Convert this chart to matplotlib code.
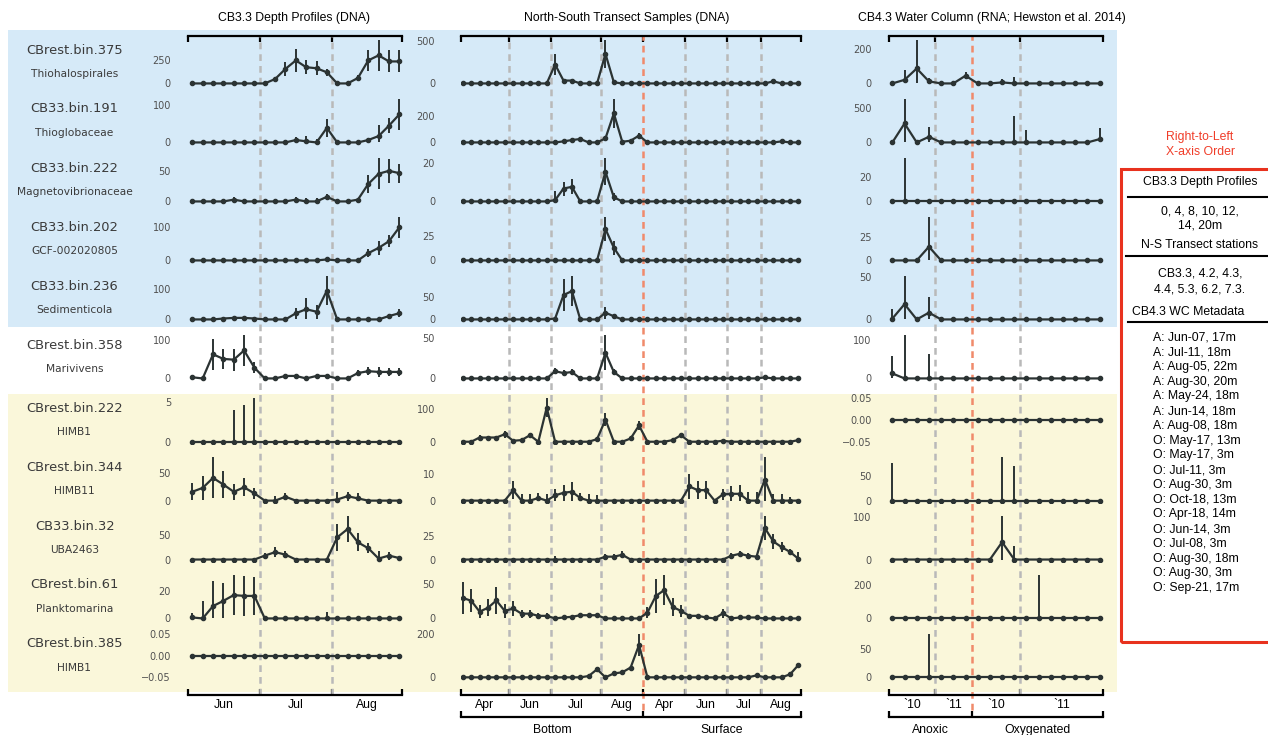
import numpy as np
import matplotlib
matplotlib.use('Agg')
import matplotlib.pyplot as plt
from matplotlib.patches import Rectangle
from matplotlib.lines import Line2D

# ---------------- data ----------------
bin_names = ["CBrest.bin.375", "CB33.bin.191", "CB33.bin.222", "CB33.bin.202", "CB33.bin.236",
             "CBrest.bin.358", "CBrest.bin.222", "CBrest.bin.344", "CB33.bin.32", "CBrest.bin.61",
             "CBrest.bin.385"]
bin_taxa = ["Thiohalospirales", "Thioglobaceae", "Magnetovibrionaceae", "GCF-002020805",
            "Sedimenticola", "Marivivens", "HIMB1", "HIMB11", "UBA2463", "Planktomarina", "HIMB1"]

col_titles = ["CB3.3 Depth Profiles (DNA)", "North-South Transect Samples (DNA)",
              "CB4.3 Water Column (RNA; Hewston et al. 2014)"]

# CB3.3 depth profiles (21 samples)
depth_mean = [
    [0,0,0,0,0,0,0,0,48,158,250,176,165,121,0,0,59,250,305,239,239],
    [0,0,0,0,0,0,0,0,0,0,6.5,3,0,39,0,0,0,6.5,17,45,75],
    [0,0,0,0,3,0,0,0,0,0,3,0,0,7.6,0,0,3,29,46,51,47],
    [0,0,0,0,0,0,0,0,0,0,0,0,0,3,0,0,0,22,38,58,100],
    [0,0,0,3,5,5,3,0,0,0,20,33,25,93,0,0,0,0,0,11,20],
    [3,0,63,51,49,73,28,0,0,6.5,6.5,0,6.5,6.5,0,0,14,19,17,17,17],
    [0,0,0,0,0,0,0,0,0,0,0,0,0,0,0,0,0,0,0,0,0],
    [16,23,41,29,16,24,13,0,0,7,0,0,0,0,2,8,4,0,0,0,0],
    [0,0,0,0,0,0,0,8,15,10,0,0,0,0,45,62,35,23,2,8,3],
    [0.7,0,9,12.8,17,16.4,16.4,0,0,0,0,0,0,0,0,0,0,0,0,0,0],
    [0,0,0,0,0,0,0,0,0,0,0,0,0,0,0,0,0,0,0,0,0],
]
depth_sd = [
    [0,0,0,0,0,0,0,0,20,73,128,74,74,37,0,0,30,118,165,120,120],
    [0,0,0,0,0,0,0,0,0,0,7,14,8,25,0,0,0,5,30,21,41],
    [0,0,0,0,4,4,0,0,0,0,4,5,5,5,0,0,3,15,26,20,16],
    [0,0,0,0,0,0,0,0,0,0,0,0,0,0,0,0,0,12,22,18,31],
    [0,0,0,2,3,3,2,0,0,0,17,36,22,47,0,0,0,0,0,6,13],
    [5,0,40,26,29,40,14,0,0,6,6,0,5,5,0,0,8,10,12,10,10],
    [0,0,0,0,4.0,4.6,5.4,0,0,0,0,0,0,0,0,0,0,0,0,0,0],
    [15,21,37,24,14,16,10,0,8,6,0,0,0,0,14,8,10,0,0,0,0],
    [0,0,0,0,0,0,0,6,10,7,0,0,0,0,28,26,18,10,16,8,5],
    [3,12.8,18,13,14.5,14.5,14,0,0,0,0,0,0,5,0,0,0,0,0,0,0],
    [0,0,0,0,0,0,0,0,0,0,0,0,0,0,0,0,0,0,0,0,0],
]

# North-South transect (41 samples)
transect_mean = [
    [0,0,0,0,0,0,0,0,0,0, 0,225,34,34,0,0,0,352,13,0, 0,0,0,0,0,0,0,0,0,0, 0,0,0,0,0,0,0,25,0,0, 0],
    [0,0,0,0,0,0,0,0,0,0, 0,0,8,18,26,0,0,31,220,5, 13,52,0,0,0,0,0,0,0,0, 0,0,0,0,0,0,0,0,8,0, 0],
    [0,0,0,0,0,0,0,0,0,0, 0,0.7,6.8,7.7,0,0,0,15.6,2.2,0, 0,0,0,0,0,0,0,0,0,0, 0,0,0,0,0,0,0,0,0,0, 0],
    [0,0,0,0,0,0,0,0,0,0, 0,0,0,0,0,0,0,31.6,12.8,0, 0,0,0,0,0,0,0,0,0,0, 0,0,0,0,0,0,0,0,0,0, 0],
    [0,0,0,0,0,0,0,0,0,0, 0,2,54,63,0,0,0,15,7,0, 0,0,0,0,0,0,0,0,0,0, 0,0,0,0,0,0,0,0,0,0, 0],
    [0,0,0,0,0,0,0,0,0,0, 0,9,6.7,8,0,0,0,32,8,0, 0,0,0,0,0,0,0,0,0,0, 0,0,0,0,0,0,1.3,0,0,0, 0],
    [0,0,13,13,13,23,3,5,20,0, 105,0,0,0,0,0,8,68,0,0, 10,50,0,0,0,5,20,0,0,0, 0,3,0,0,0,0,0,0,0,0, 5],
    [0,0,0,0,0,0,4,0,0,1, 0,2,3,3.4,1,0,0,0,0,0, 0,0,0,0,0,0,0,5.4,4,4, 0,2.4,2.6,2.6,0,0,8,0,0,0, 0],
    [0,0,0,0,0,0,0,0,0,0, 0,0,0,0,0,0,0,3,3,5, 0,0,0,0,0,0,0,0,0,0, 0,0,4,6,4,3,33,19,13,8, 0.7],
    [30,26,10,15.6,26.4,11,14.6,7,7,3.8, 3.8,0,1.4,2.4,4.7,4.7,4.7,0,0,0, 0,0,8.5,33,41.5,17,11,3.8,3.8,1.4, 0,7.5,0,1.4,1.4,1.4,0,0,0,0, 0],
    [0,0,0,0,0,0,0,0,0,0, 0,0,0,0,0,6,37,0,18,23, 45,149,0,0,0,0,0,0,0,0, 0,0,0,0,0,9,0,0,0,14, 57],
]
transect_sd = [
    [0,0,0,0,0,0,0,0,0,0, 0,120,0,0,0,0,0,163,0,0, 0,0,0,0,0,0,0,0,0,0, 0,0,0,0,0,0,0,0,0,0, 0],
    [0,0,0,0,0,0,0,0,0,0, 0,0,0,0,0,0,0,0,108,0, 0,21,0,0,0,0,0,0,0,0, 0,0,0,0,0,0,0,0,0,0, 0],
    [0,0,0,0,0,0,0,0,0,0, 0,5,3.7,4,0,0,0,7.2,2,0, 0,0,0,0,0,0,0,0,0,0, 0,0,0,0,0,0,0,0,0,0, 0],
    [0,0,0,0,0,0,0,0,0,0, 0,0,0,0,0,0,0,12,7,0, 0,0,0,0,0,0,0,0,0,0, 0,0,0,0,0,0,0,0,0,0, 0],
    [0,0,0,0,0,0,0,0,0,0, 0,0,35,33,0,0,0,13,5,0, 0,0,0,0,0,0,0,0,0,0, 0,0,0,0,0,0,0,0,0,0, 0],
    [0,0,0,0,0,0,0,0,0,0, 0,4,4,4,0,0,0,22,4,0, 0,0,0,0,0,0,0,0,0,0, 0,0,0,0,0,0,0,0,0,0, 0],
    [0,0,8,6,6,10,0,0,4,0, 28,0,0,0,0,0,0,20,0,0, 0,15,0,0,0,0,3,0,0,0, 0,0,0,0,0,0,0,0,0,0, 4],
    [0,0,0,0,0,0,3.3,2.4,2.4,2, 2.4,2.3,3,3.8,2,2.4,2,0,0,0, 0,0,0,0,0,0,0,4.6,3.3,3.3, 0,2,3,3.5,3.3,3.3,8.5,2.4,2.4,1.4, 0],
    [0,0,0,0,0,0,0,0,0,0, 0,4,0,0,0,0,0,3,3,3.5, 0,0,0,0,0,0,0,0,0,0, 0,0,3,3,3,0,12.5,8,5,3, 7.6],
    [23.6,17,10,12.7,20,10,10.6,6,6,4, 4,0,0,0,4,4,4,0,0,0, 0,0,8,25,22,13,9,0,0,0, 0,7,0,0,0,0,0,0,0,0, 0],
    [0,0,0,0,0,0,0,0,0,0, 0,0,0,0,0,0,7,0,0,0, 5,50,0,0,0,0,0,0,0,0, 0,0,0,0,0,0,0,0,0,0, 10],
]

# CB4.3 water column (18 samples)
wc_mean = [
    [0,21,87,12,0,0,45,0,0,6,0,0,0,0,0,0,0,0],
    [0,279,0,83,0,0,0,0,0,0,0,0,0,0,0,0,0,49],
    [0,0,0,0,0,0,0,0,0,0,0,0,0,0,0,0,0,0],
    [0,0,0,14.4,0,0,0,0,0,0,0,0,0,0,0,0,0,0],
    [1,18,0,8,0,0,0,0,0,0,0,0,0,0,0,0,0,0],
    [13,0,0,0,0,0,0,0,0,0,0,0,0,0,0,0,0,0],
    [0,0,0,0,0,0,0,0,0,0,0,0,0,0,0,0,0,0],
    [0,0,0,0,0,0,0,0,0,0,0,0,0,0,0,0,0,0],
    [0,0,0,0,0,0,0,0,0,41,0,0,0,0,0,0,0,0],
    [0,0,0,0,0,0,0,0,0,0,0,0,0,0,0,0,0,0],
    [0,0,0,0,0,0,0,0,0,0,0,0,0,0,0,0,0,0],
]
wc_sd = [
    [0,57,165,19,0,0,21,0,0,19,39,0,0,0,0,0,0,0],
    [0,358,0,147,0,0,0,0,0,0,392,181,0,0,0,0,0,162],
    [0,35.7,0,0,0,0,0,0,0,0,0,0,0,0,0,0,0,0],
    [0,0,0,31,0,0,0,0,0,0,0,0,0,0,0,0,0,0],
    [11,33,0,18,0,0,0,0,0,0,0,0,0,0,0,0,0,0],
    [45,113,0,65,0,0,0,0,0,0,0,0,0,0,0,0,0,0],
    [0,0,0,0,0,0,0,0,0,0,0,0,0,0,0,0,0,0],
    [75,0,0,0,0,0,0,0,0,87,70,0,0,0,0,0,0,0],
    [0,0,0,0,0,0,0,0,0,61,31.5,0,0,0,0,0,0,0],
    [0,0,0,0,0,0,0,0,0,0,0,0,259,0,0,0,0,0],
    [0,0,0,77,0,0,0,0,0,0,0,0,0,0,0,0,0,0],
]

depth_ticks = [[0,250],[0,100],[0,50],[0,100],[0,100],[0,100],[0,5],[0,50],[0,50],[0,20],[-0.05,0,0.05]]
transect_ticks = [[0,500],[0,200],[0,20],[0,25],[0,50],[0,50],[0,100],[0,10],[0,25],[0,50],[0,200]]
wc_ticks = [[0,200],[0,500],[0,20],[0,25],[0,50],[0,100],[-0.05,0,0.05],[0,50],[0,100],[0,200],[0,50]]

depth_months = ["Jun", "Jul", "Aug"]
transect_months = ["Apr", "Jun", "Jul", "Aug", "Apr", "Jun", "Jul", "Aug"]
wc_years = ["`10", "`11", "`10", "`11"]
transect_groups = ["Bottom", "Surface"]
wc_groups = ["Anoxic", "Oxygenated"]

legend_depths = ["0, 4, 8, 10, 12,", "14, 20m"]
legend_stations = ["CB3.3, 4.2, 4.3,", "4.4, 5.3, 6.2, 7.3."]
wc_metadata = ["A: Jun-07, 17m", "A: Jul-11, 18m", "A: Aug-05, 22m", "A: Aug-30, 20m",
               "A: May-24, 18m", "A: Jun-14, 18m", "A: Aug-08, 18m", "O: May-17, 13m",
               "O: May-17, 3m", "O: Jul-11, 3m", "O: Aug-30, 3m", "O: Oct-18, 13m",
               "O: Apr-18, 14m", "O: Jun-14, 3m", "O: Jul-08, 3m", "O: Aug-30, 18m",
               "O: Aug-30, 3m", "O: Sep-21, 17m"]

# ---------------- layout ----------------
W, H = 1268, 735
fig = plt.figure(figsize=(W / 100, H / 100), dpi=100)
fig.patch.set_facecolor('white')

def rect(l, t, w, h):
    return [l / W, 1 - (t + h) / H, w / W, h / H]

def fx(x):
    return x / W

def fy(y):
    return 1 - y / H

ARIAL = 'Liberation Sans'
LINE = '#2b3333'
GRAY = '#b9b9b9'
ORANGE = '#f08a6b'
RED = '#e8321e'

row_tops = [38, 97, 156, 215, 274, 333, 396.3, 455.2, 514.1, 573, 631.9]
ROW_H = 47.6

col_left = [188.2, 460.7, 889.3]
col_right = [402.4, 801.0, 1103.3]
xlims = [(-0.4, 20.3), (-0.25, 40.3), (-0.25, 17.3)]
ypads = [12.4, 18.5, 12.7]

# background bands
fig.add_artist(Rectangle((fx(8), fy(327)), (1117 - 8) / W, (327 - 30) / H,
                         transform=fig.transFigure, facecolor='#d6eaf8', edgecolor='none', zorder=-5))
fig.add_artist(Rectangle((fx(8), fy(692)), (1117 - 8) / W, (692 - 394) / H,
                         transform=fig.transFigure, facecolor='#faf7da', edgecolor='none', zorder=-5))

# bracket structure per column
bounds = [[-0.4, 6.5, 13.5, 20.3],
          [-0.25, 5.5, 10.5, 16.5, 21.5, 26.5, 31.5, 35.5, 40.3],
          [-0.25, 3.5, 10.5, 17.3]]
label_edges = [[-0.4, 6.5, 13.5, 20.3],
               [-0.25, 5.5, 10.5, 16.5, 21.5, 26.5, 31.5, 35.5, 40.3],
               [-0.25, 3.5, 6.5, 10.5, 17.3]]
month_labels = [depth_months, transect_months, wc_years]
gray_lines = [[6.5, 13.5], [5.5, 10.5, 16.5, 26.5, 31.5, 35.5], [3.5, 10.5]]
orange_lines = [[], [21.5], [6.5]]
dash = (0, (2.7, 2.0))

for c in range(3):
    w = col_right[c] - col_left[c]
    ov = fig.add_axes(rect(col_left[c], 36, w, 694.5 - 36))
    ov.set_zorder(1)
    ov.set_facecolor('none')
    ov.set_xlim(*xlims[c])
    ov.set_ylim(0, 1)
    ov.spines['left'].set_visible(False)
    ov.spines['right'].set_visible(False)
    for s in ('top', 'bottom'):
        ov.spines[s].set_linewidth(1.6)
        ov.spines[s].set_color('black')
    ov.set_yticks([])
    ov.set_xticks(bounds[c])
    ov.set_xticklabels([])
    e = label_edges[c]
    centers = [(e[i] + e[i + 1]) / 2 for i in range(len(e) - 1)]
    ov.set_xticks(centers, minor=True)
    ov.set_xticklabels(month_labels[c], minor=True, fontsize=8.8, family=ARIAL)
    ov.tick_params(axis='x', which='major', direction='in', length=4, width=1.6,
                   top=True, bottom=True)
    ov.tick_params(axis='x', which='minor', length=0, pad=3.5, top=False)
    for xv in gray_lines[c]:
        ov.axvline(xv, color=GRAY, lw=1.8, ls=dash)
    for xv in orange_lines[c]:
        ov.axvline(xv, ymin=-0.024, ymax=1, color=ORANGE, lw=1.8, ls=dash, clip_on=False)

# secondary group brackets
group_bounds = {1: [-0.25, 21.5, 40.3], 2: [-0.25, 6.5, 17.3]}
group_labels = {1: transect_groups, 2: wc_groups}
for c in (1, 2):
    w = col_right[c] - col_left[c]
    gb = fig.add_axes(rect(col_left[c], 711, w, 6))
    gb.set_facecolor('none')
    gb.set_xlim(*xlims[c])
    for s in ('left', 'right', 'top'):
        gb.spines[s].set_visible(False)
    gb.spines['bottom'].set_linewidth(1.6)
    gb.set_yticks([])
    b = group_bounds[c]
    gb.set_xticks(b)
    gb.set_xticklabels([])
    gb.set_xticks([(b[0] + b[1]) / 2, (b[1] + b[2]) / 2], minor=True)
    gb.set_xticklabels(group_labels[c], minor=True, fontsize=8.8, family=ARIAL)
    gb.tick_params(axis='x', which='major', direction='in', length=4, width=1.6)
    gb.tick_params(axis='x', which='minor', length=0, pad=5)

# data panels
all_means = [depth_mean, transect_mean, wc_mean]
all_sds = [depth_sd, transect_sd, wc_sd]
all_ticks = [depth_ticks, transect_ticks, wc_ticks]

for c in range(3):
    w = col_right[c] - col_left[c]
    for r in range(11):
        ax = fig.add_axes(rect(col_left[c], row_tops[r], w, ROW_H))
        ax.set_zorder(2)
        ax.set_facecolor('none')
        m = np.array(all_means[c][r], dtype=float)
        s = np.array(all_sds[c][r], dtype=float)
        x = np.arange(len(m))
        ax.errorbar(x, m, yerr=[np.minimum(m, s), s], color=LINE, lw=1.6,
                    marker='o', ms=3.0, elinewidth=1.4, capsize=0)
        ax.set_xlim(*xlims[c])
        ax.set_yticks(all_ticks[c][r])
        ax.set_xticks([])
        for sp in ax.spines.values():
            sp.set_visible(False)
        ax.tick_params(axis='y', length=0, pad=ypads[c], labelsize=7, labelcolor='#505050')

# row labels
for r in range(11):
    fig.text(fx(74.5), fy(row_tops[r] + 15.5), bin_names[r], ha='center', va='baseline',
             fontsize=9.4, color='#3a3a3a')
    fig.text(fx(74.5), fy(row_tops[r] + 38.7), bin_taxa[r], ha='center', va='baseline',
             fontsize=7.7, color='#3a3a3a')

# column titles
for xc, t in zip([294, 626.7, 992.3], col_titles):
    fig.text(fx(xc), fy(18.3), t, ha='center', va='center', fontsize=8.8, family=ARIAL)

# legend panel
fig.text(fx(1200), fy(137.3), "Right-to-Left", ha='center', va='center', fontsize=8.8,
         family=ARIAL, color='#f03c28')
fig.text(fx(1200), fy(151.7), "X-axis Order", ha='center', va='center', fontsize=8.8,
         family=ARIAL, color='#f03c28')
fig.add_artist(Rectangle((fx(1121), fy(642)), (1280 - 1121) / W, (642 - 169) / H,
                         transform=fig.transFigure, facecolor='none', edgecolor=RED, lw=2.2))
fig.text(fx(1200), fy(182.3), "CB3.3 Depth Profiles", ha='center', va='center', fontsize=8.8, family=ARIAL)
fig.add_artist(Line2D([fx(1128), fx(1268)], [fy(197), fy(197)], transform=fig.transFigure,
                      color='black', lw=1.5))
for yy, t in zip([211, 226], legend_depths):
    fig.text(fx(1200), fy(yy), t, ha='center', va='center', fontsize=8.8, family=ARIAL)
fig.text(fx(1200), fy(245), "N-S Transect stations", ha='center', va='center', fontsize=8.8, family=ARIAL)
fig.add_artist(Line2D([fx(1126), fx(1268)], [fy(255.5), fy(255.5)], transform=fig.transFigure,
                      color='black', lw=1.5))
for yy, t in zip([274, 289], legend_stations):
    fig.text(fx(1200), fy(yy), t, ha='center', va='center', fontsize=8.8, family=ARIAL)
fig.text(fx(1188.3), fy(312.3), "CB4.3 WC Metadata", ha='center', va='center', fontsize=8.8, family=ARIAL)
fig.add_artist(Line2D([fx(1128), fx(1268)], [fy(322.3), fy(322.3)], transform=fig.transFigure,
                      color='black', lw=1.5))
for i, t in enumerate(wc_metadata):
    fig.text(fx(1152.7), fy(337.3 + i * 14.76), t, ha='left', va='center', fontsize=8.8, family=ARIAL)

fig.savefig('out.png', dpi=100)
